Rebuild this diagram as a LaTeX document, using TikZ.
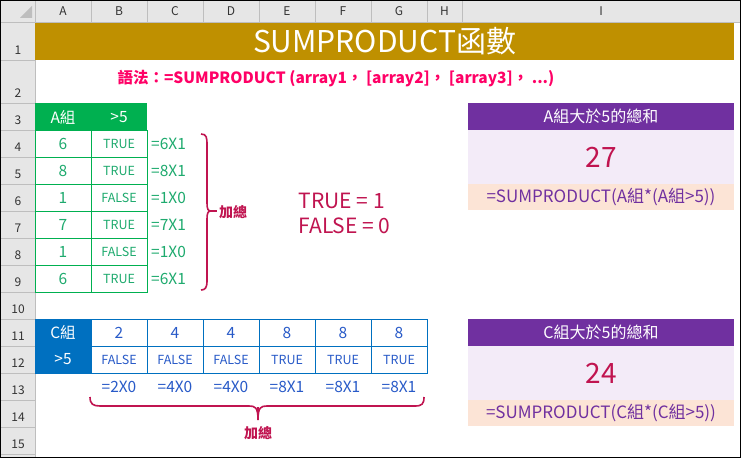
\documentclass[tikz,border=0pt]{standalone}
\usepackage{fontspec}
\setmainfont{Noto Sans CJK TC}
\definecolor{gold}{RGB}{191,144,0}
\definecolor{xgreen}{RGB}{0,176,80}
\definecolor{xblue}{RGB}{0,112,192}
\definecolor{xpurple}{RGB}{112,48,160}
\definecolor{lav}{RGB}{243,235,248}
\definecolor{peach}{RGB}{252,228,214}
\definecolor{crim}{RGB}{192,20,80}
\definecolor{pinkt}{RGB}{255,0,102}
\definecolor{hdr}{RGB}{230,230,230}
\definecolor{hline}{RGB}{190,190,190}
\definecolor{gtxt}{RGB}{30,170,110}
\definecolor{btxt}{RGB}{40,90,200}
\tikzset{
 hd/.style={font=\fontsize{12}{14}\selectfont,text=black!80},
 cell/.style={font=\fontsize{15.5}{17}\selectfont},
 small/.style={font=\fontsize{12.5}{14}\selectfont},
 brace/.style={draw=crim,line width=1.6pt},
}
\begin{document}
\begin{tikzpicture}[x=1pt,y=-1pt]
\useasboundingbox (0,0) rectangle (743,460);
\fill[white] (0,0) rectangle (743,460);
\fill[hdr] (0,0) rectangle (740,22);
\fill[hdr] (0,0) rectangle (35,457);
\foreach \x in {35,91,147,203,259,315,371,427,462,740} \draw[hline] (\x,0) -- (\x,22);
\draw[hline] (0,22) -- (740,22);
\foreach \y in {22,60,103,130,157,184,211,238,265,292,319,346,373,400,427,454} \draw[hline] (0,\y) -- (35,\y);
\draw[hline] (35,22) -- (35,457);
\fill[hline] (20,18) -- (32,6) -- (32,18) -- cycle;
\foreach \c/\x in {A/63,B/119,C/175,D/231,E/287,F/343,G/399,H/444.5,I/601} \node[hd] (c\c) at (\x,11) {\c};
\foreach \r/\y in {1/50,2/93,3/120,4/147,5/174,6/201,7/228,8/255,9/282,10/309,11/336,12/363,13/390,14/417,15/444} \node[hd] (r\r) at (18,\y) {\r};
\fill[gold] (35,23) rectangle (734,60);
\node[text=white,font=\fontsize{30}{32}\selectfont] (title) at (384.5,41) {SUMPRODUCT函數};
\node[text=pinkt,font=\fontsize{15.5}{18}\selectfont\bfseries,anchor=west] (syn) at (114,79) {語法：=SUMPRODUCT (array1， [array2]， [array3]， ...)};
\fill[xgreen] (35,103) rectangle (147,130);
\node[cell,text=white] (ah) at (63,117) {A組};
\node[cell,text=white] (bh) at (119,117) {>5};
\draw[xgreen] (35,130) rectangle (147,292);
\draw[xgreen] (91,130) -- (91,292);
\foreach \y in {157,184,211,238,265} \draw[xgreen] (35,\y) -- (147,\y);
\foreach \v/\t/\f [count=\i] in {6/TRUE/6X1,8/TRUE/8X1,1/FALSE/1X0,7/TRUE/7X1,1/FALSE/1X0,6/TRUE/6X1}{
 \node[cell,text=gtxt] (av\i) at (63,116.5+27*\i) {\v};
 \node[small,text=gtxt] (bv\i) at (119,116.5+27*\i) {\t};
 \node[cell,text=gtxt,anchor=west,inner sep=1pt] (cv\i) at (150,116.5+27*\i) {=\f};
}
\coordinate (rb) at (211,211);
\draw[brace] (201,134) .. controls (207,134) and (207,138) .. (207,146) -- (207,203) .. controls (207,209) and (208,211) .. (rb) .. controls (208,211) and (207,213) .. (207,219) -- (207,281) .. controls (207,288) and (205,290) .. (201,290);
\draw[crim,line width=1.3pt] (rb) -- (217,211);
\node[text=crim,font=\fontsize{14}{16}\selectfont\bfseries,anchor=west,inner sep=1pt] (sum1) at (218,212) {加總};
\node[text=crim,font=\fontsize{21}{25}\selectfont,anchor=west,align=left] (tf) at (295,213) {TRUE = 1\\FALSE = 0};
\fill[xpurple] (468,103) rectangle (734,130);
\fill[lav] (468,130) rectangle (734,184);
\fill[peach] (468,184) rectangle (734,210);
\node[text=white,font=\fontsize{16}{18}\selectfont] (pa) at (601,116.5) {A組大於5的總和};
\node[text=crim,font=\fontsize{28}{30}\selectfont] (pa2) at (601,157) {27};
\node[text=xpurple,font=\fontsize{17}{19}\selectfont] (pa3) at (601,197) {=SUMPRODUCT(A組*(A組>5))};
\fill[xblue] (35,319) rectangle (91,373);
\node[cell,text=white] (ch) at (63,332.5) {C組};
\node[cell,text=white] (ch2) at (63,359.5) {>5};
\draw[xblue] (91,319) rectangle (427,373);
\draw[xblue] (35,319) -- (91,319) (35,373) -- (91,373);
\draw[xblue] (91,346) -- (427,346);
\foreach \x in {147,203,259,315,371} \draw[xblue] (\x,319) -- (\x,373);
\foreach \v/\t/\f [count=\i] in {2/FALSE/2X0,4/FALSE/4X0,4/FALSE/4X0,8/TRUE/8X1,8/TRUE/8X1,8/TRUE/8X1}{
 \node[cell,text=btxt] (cn\i) at (63+56*\i,332.5) {\v};
 \node[small,text=btxt] (ct\i) at (63+56*\i,359.5) {\t};
 \node[cell,text=btxt] (cf\i) at (63+56*\i,386.5) {=\f};
}
\coordinate (bb) at (258,420);
\draw[brace] (90,397) .. controls (90,404) and (93,406) .. (100,406) -- (249,406) .. controls (255,406) and (258,407) .. (bb) .. controls (258,407) and (261,406) .. (267,406) -- (415,406) .. controls (422,406) and (424,404) .. (424,397);
\draw[crim,line width=1.3pt] (258,407) -- (bb);
\node[text=crim,font=\fontsize{14}{16}\selectfont\bfseries] (sum2) at (258,433) {加總};
\fill[xpurple] (468,319) rectangle (734,346);
\fill[lav] (468,346) rectangle (734,400);
\fill[peach] (468,400) rectangle (734,426);
\node[text=white,font=\fontsize{16}{18}\selectfont] (pc) at (601,332.5) {C組大於5的總和};
\node[text=crim,font=\fontsize{28}{30}\selectfont] (pc2) at (601,373) {24};
\node[text=xpurple,font=\fontsize{17}{19}\selectfont] (pc3) at (601,413) {=SUMPRODUCT(C組*(C組>5))};
\draw[black,line width=1pt] (0.5,0.5) rectangle (740,457);
\end{tikzpicture}
\end{document}
